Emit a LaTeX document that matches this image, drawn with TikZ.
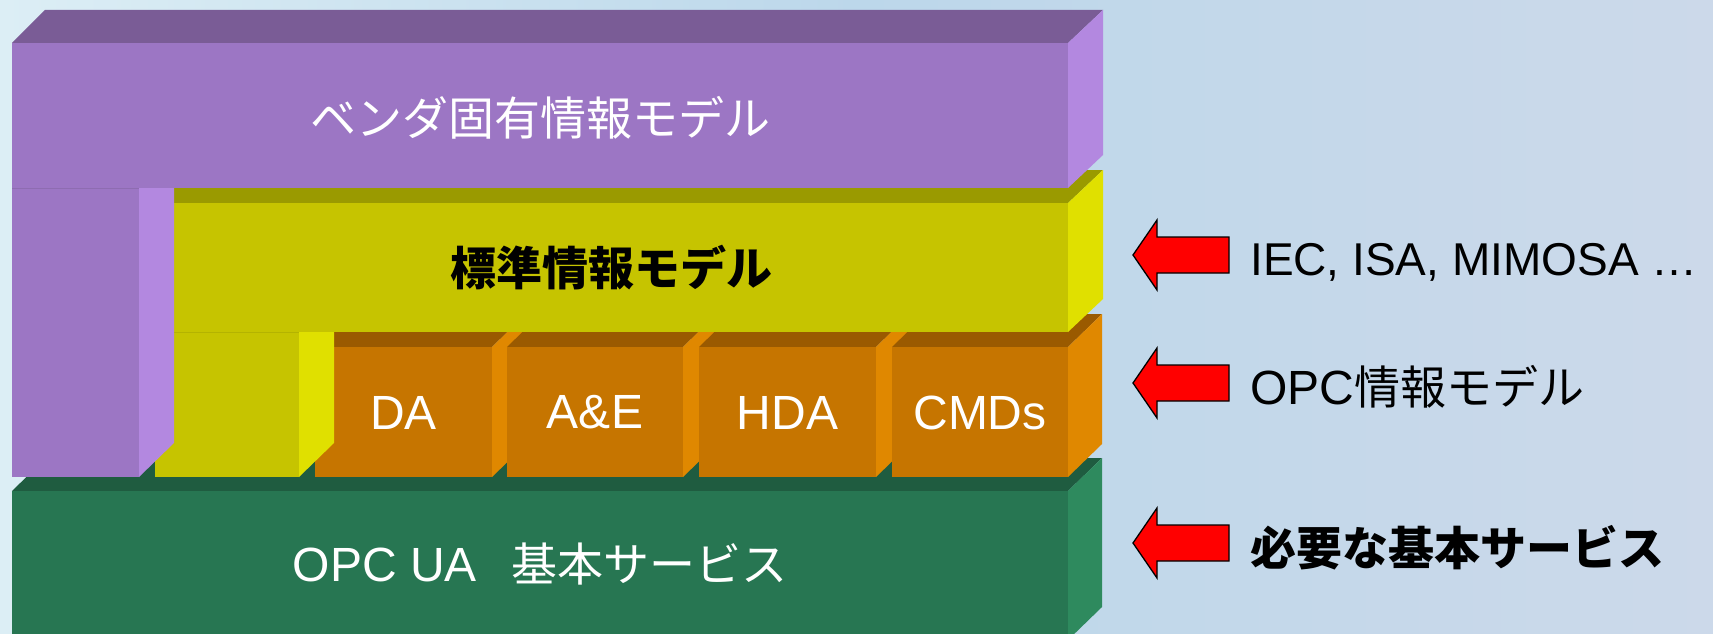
\documentclass[tikz,border=0pt]{standalone}
\usepackage{fontspec}
\setmainfont{Liberation Sans}
\newfontfamily\jpf{Noto Sans CJK JP}
\newfontfamily\latf{Liberation Sans}
\definecolor{bgL}{HTML}{DCEEF5}
\definecolor{bgM}{HTML}{BCD7EA}
\definecolor{bgR}{HTML}{CCD9EA}
\definecolor{pufront}{HTML}{9C76C4}
\definecolor{putop}{HTML}{7A5C96}
\definecolor{puside}{HTML}{B388E0}
\definecolor{ylfront}{HTML}{C6C400}
\definecolor{yltop}{HTML}{9A9A00}
\definecolor{ylside}{HTML}{E0E000}
\definecolor{orfront}{HTML}{C67500}
\definecolor{ortop}{HTML}{9A5A00}
\definecolor{orside}{HTML}{E08800}
\definecolor{grfront}{HTML}{277652}
\definecolor{grtop}{HTML}{1F5C40}
\definecolor{grside}{HTML}{2E8A5E}
\newcommand{\blockbox}[5]{%
  \fill[#5top] (#1,#2) -- (#1+34,#2-33) -- (#3+34,#2-33) -- (#3,#2) -- cycle;
  \fill[#5front] (#1,#2) rectangle (#3,#4);
  \fill[#5side] (#3,#2) -- (#3+34,#2-33) -- (#3+34,#4-33) -- (#3,#4) -- cycle;}
\newcommand{\myRedArrow}[1]{%
  \draw[redarrow] (1133,#1) -- (1157,#1-35) -- (1157,#1-18) -- (1229,#1-18)
    -- (1229,#1+18) -- (1157,#1+18) -- (1157,#1+35) -- cycle;}
\tikzset{
  redarrow/.style={fill=red, draw=black, line width=1.3pt, line join=miter},
  cjktext/.style={font=\jpf\fontsize{46}{50}\selectfont, inner sep=0pt},
  lattext/.style={font=\latf\fontsize{48}{52}\selectfont, inner sep=0pt},
}
\begin{document}
\begin{tikzpicture}[x=1pt, y=-1pt]
\useasboundingbox (0,0) rectangle (1713,634);
\shade[left color=bgL, right color=bgR, middle color=bgM] (0,0) rectangle (1713,634);
% green base
\blockbox{12}{491}{1068}{640}{gr}
% orange blocks
\blockbox{315}{347}{492}{477}{or}
\blockbox{507}{347}{683}{477}{or}
\blockbox{699}{347}{876}{477}{or}
\blockbox{892}{347}{1068}{477}{or}
% yellow L block
\fill[yltop] (155,203) -- (189,170) -- (1103,170) -- (1068,203) -- cycle;
\fill[ylfront] (155,203) rectangle (1068,332);
\fill[ylfront] (155,332) rectangle (299,477);
\draw[yltop!40!ylfront, line width=1pt] (155,332) -- (299,332);
\fill[ylside] (1068,203) -- (1103,170) -- (1103,299) -- (1068,332) -- cycle;
\fill[ylside] (299,332) -- (334,332) -- (334,443) -- (299,477) -- cycle;
% purple L block
\fill[putop] (12,43) -- (45,10) -- (1103,10) -- (1068,43) -- cycle;
\fill[pufront] (12,43) rectangle (1068,188);
\fill[pufront] (12,188) rectangle (139,477);
\draw[putop!40!pufront, line width=1pt] (12,188) -- (139,188);
\fill[puside] (1068,43) -- (1103,10) -- (1103,155) -- (1068,188) -- cycle;
\fill[puside] (139,188) -- (174,188) -- (174,443) -- (139,477) -- cycle;
% labels in the blocks
\node[cjktext, text=white] (vendor) at (540,118) {ベンダ固有情報モデル};
\node[cjktext, text=black, font=\jpf\bfseries\fontsize{46}{50}\selectfont] (std) at (611,268) {標準情報モデル};
\node[lattext, text=white] (da) at (403.5,412.5) {DA};
\node[lattext, text=white] (ae) at (595,412.5) {A\&E};
\node[lattext, text=white] (hda) at (787.5,412.5) {HDA};
\node[lattext, text=white] (cmds) at (980,412.5) {CMDs};
\node[inner sep=0pt, anchor=base, text=white] (base) at (540,581)
  {{\latf\fontsize{48}{52}\selectfont OPC UA}\hspace{34pt}{\jpf\fontsize{46}{50}\selectfont 基本サービス}};
% arrows
\myRedArrow{255}
\myRedArrow{383}
\myRedArrow{543}
% right-hand labels
\node[inner sep=0pt, anchor=base west, text=black, font=\latf\fontsize{46}{50}\selectfont] (iec) at (1250,275) {IEC, ISA, MIMOSA …};
\node[inner sep=0pt, anchor=base west, text=black] (opcinfo) at (1250,404)
  {{\latf\fontsize{48}{52}\selectfont OPC}{\jpf\fontsize{46}{50}\selectfont 情報モデル}};
\node[cjktext, anchor=base west, text=black, font=\jpf\bfseries\fontsize{46}{50}\selectfont] (need) at (1250,565) {必要な基本サービス};
\end{tikzpicture}
\end{document}
